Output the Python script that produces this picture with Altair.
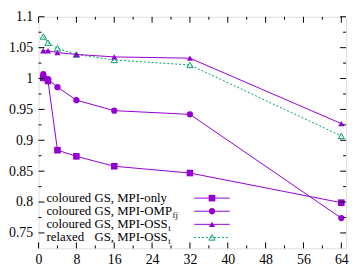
import altair as alt
import pandas as pd

# ---------------- data ----------------
procs = [1, 2, 4, 8, 16, 32, 64]
mpi_only = [1.001, 0.996, 0.884, 0.874, 0.858, 0.847, 0.799]
mpi_omp = [1.007, 0.999, 0.986, 0.965, 0.948, 0.942, 0.774]
mpi_oss = [1.045, 1.045, 1.042, 1.039, 1.035, 1.033, 0.927]
relaxed_oss = [1.068, 1.058, 1.049, 1.039, 1.030, 1.022, 0.907]

x_major = [0, 8, 16, 24, 32, 40, 48, 56, 64]
x_minor = [4, 12, 20, 28, 36, 44, 52, 60]
y_major = [0.75, 0.8, 0.85, 0.9, 0.95, 1.0, 1.05, 1.1]
y_minor = [0.775, 0.825, 0.875, 0.925, 0.975, 1.025, 1.075]

legend_first = ["coloured", "coloured", "coloured", "relaxed"]
legend_second = ["GS, MPI-only", "GS, MPI-OMP", "GS, MPI-OSS", "GS, MPI-OSS"]
legend_sub = ["", "fj", "t", "t"]

# ---------------- style ----------------
W, H = 312, 235
FONT = "Liberation Serif"
PURPLE = "#9400d3"
TEAL = "#009e73"

xs = alt.Scale(domain=[0, 65], nice=False, zero=False)
ys = alt.Scale(domain=[0.725, 1.1], nice=False, zero=False)
x_axis = alt.Axis(values=x_major, ticks=False, domain=False, grid=False,
                  labelFont=FONT, labelFontSize=14, labelColor="black",
                  labelPadding=4, title=None, labelFlush=False)
y_axis = alt.Axis(values=y_major, ticks=False, domain=False, grid=False,
                  labelFont=FONT, labelFontSize=14, labelColor="black",
                  labelPadding=6, title=None, format="~g", labelFlush=False)


def X(field):
    return alt.X(field, type="quantitative", scale=xs, axis=x_axis)


def Y(field):
    return alt.Y(field, type="quantitative", scale=ys, axis=y_axis)


def series(vals, color, shape, filled, dash=None, size=45):
    df = pd.DataFrame({"p": procs, "v": vals})
    line_kw = dict(color=color, strokeWidth=1)
    if dash:
        line_kw["strokeDash"] = dash
    line = alt.Chart(df).mark_line(**line_kw).encode(x=X("p"), y=Y("v"))
    if filled:
        pts = alt.Chart(df).mark_point(shape=shape, filled=True, color=color,
                                       size=size, opacity=1)
    else:
        pts = alt.Chart(df).mark_point(shape=shape, filled=False, color=color,
                                       size=size, strokeWidth=1, opacity=1)
    return [line, pts.encode(x=X("p"), y=Y("v"))]


layers = []
layers += series(relaxed_oss, TEAL, "triangle-up", False, dash=[2, 2], size=40)
layers += series(mpi_oss, PURPLE, "triangle-up", True, size=40)
layers += series(mpi_omp, PURPLE, "circle", True, size=40)
layers += series(mpi_only, PURPLE, "square", True, size=45)

# ---------------- ticks (inside, mirrored) ----------------
def xticks(vals, length):
    df = pd.DataFrame({"t": vals})
    bottom = alt.Chart(df).mark_rule(color="black", strokeWidth=1).encode(
        x=X("t"), y=alt.value(H), y2=alt.value(H - length))
    top = alt.Chart(df).mark_rule(color="black", strokeWidth=1).encode(
        x=X("t"), y=alt.value(0), y2=alt.value(length))
    return [bottom, top]


def yticks(vals, length):
    df = pd.DataFrame({"t": vals})
    left = alt.Chart(df).mark_rule(color="black", strokeWidth=1).encode(
        y=Y("t"), x=alt.value(0), x2=alt.value(length))
    right = alt.Chart(df).mark_rule(color="black", strokeWidth=1).encode(
        y=Y("t"), x=alt.value(W), x2=alt.value(W - length))
    return [left, right]


layers += xticks(x_major, 6) + xticks(x_minor, 3)
layers += yticks(y_major, 6) + yticks(y_minor, 3)

# ---------------- legend ----------------
one = pd.DataFrame({"a": [0]})
LFS = 13
em = LFS
lx0 = 8
lx1 = lx0 + 3.75 * em           # width of "coloured "
sub_offsets = [0, 6.056 * em + 0.5, 5.723 * em + 0.5, 5.723 * em + 0.5]
row0 = 184
dy = 13.3
samp_x1, samp_x2 = 158, 194
samp_mid = (samp_x1 + samp_x2) / 2
legend_styles = [
    (PURPLE, "square", True, None, 45),
    (PURPLE, "circle", True, None, 40),
    (PURPLE, "triangle-up", True, None, 40),
    (TEAL, "triangle-up", False, [2, 2], 40),
]
for i in range(4):
    yy = row0 + i * dy
    layers.append(alt.Chart(one).mark_text(align="left", baseline="middle", font=FONT,
                                            fontSize=LFS, color="black").encode(
        x=alt.value(lx0), y=alt.value(yy), text=alt.value(legend_first[i])))
    layers.append(alt.Chart(one).mark_text(align="left", baseline="middle", font=FONT,
                                            fontSize=LFS, color="black").encode(
        x=alt.value(lx1), y=alt.value(yy), text=alt.value(legend_second[i])))
    if legend_sub[i]:
        layers.append(alt.Chart(one).mark_text(align="left", baseline="middle", font=FONT,
                                                fontSize=9, color="black").encode(
            x=alt.value(lx1 + sub_offsets[i]), y=alt.value(yy + 3.5),
            text=alt.value(legend_sub[i])))
    color, shape, filled, dash, size = legend_styles[i]
    rk = dict(color=color, strokeWidth=1)
    if dash:
        rk["strokeDash"] = dash
    layers.append(alt.Chart(one).mark_rule(**rk).encode(
        x=alt.value(samp_x1), x2=alt.value(samp_x2), y=alt.value(yy)))
    if filled:
        pm = alt.Chart(one).mark_point(shape=shape, filled=True, color=color, size=size, opacity=1)
    else:
        pm = alt.Chart(one).mark_point(shape=shape, filled=False, color=color, size=size,
                                       strokeWidth=1, opacity=1)
    layers.append(pm.encode(x=alt.value(samp_mid), y=alt.value(yy)))

chart = alt.layer(*layers).properties(width=W, height=H).configure_view(
    stroke="black", strokeWidth=1.5).configure(background="white", padding=0)

chart.save("out.html", embed_options={"renderer": "svg", "actions": False})
